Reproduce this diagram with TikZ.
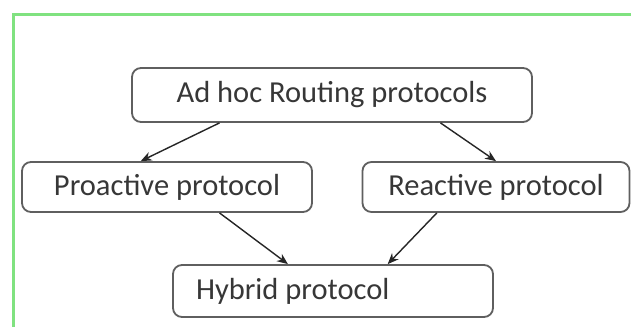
\documentclass[tikz,border=0pt]{standalone}
\usepackage{fontspec}
\setmainfont{Carlito}
\usetikzlibrary{arrows.meta, calc}
\usetikzlibrary{positioning}

\definecolor{framegreen}{RGB}{128,226,128}
\definecolor{boxgray}{RGB}{95,95,95}
\definecolor{textgray}{RGB}{55,55,55}

\begin{document}
\begin{tikzpicture}[x=1pt, y=-1pt,
    proto/.style={draw=boxgray, line width=1.8pt, rounded corners=9pt, fill=white,
        text=textgray, font=\fontsize{30.5}{34}\selectfont, inner sep=0pt},
    link/.style={line width=1.4pt, draw=black!85, -{Stealth[length=11pt,width=9pt]}}]
    \useasboundingbox (0,0) rectangle (631,327);
    \fill[white] (0,0) rectangle (631,327);
    % frame
    \draw[framegreen, line width=3pt] (13,327) -- (13,14) -- (631,14);
    % boxes
    \node[proto, minimum width=400pt, minimum height=54pt] at (332,95) (adhoc) {Ad hoc Routing protocols};
    \node[proto, minimum width=290pt, minimum height=50pt] at (167,187) (proactive) {Proactive protocol};
    \node[proto, minimum width=267pt, minimum height=50pt] at (496,187) (reactive) {Reactive protocol};
    \node[proto, minimum width=320pt, minimum height=52pt, text width=274pt, align=flush left,
        inner xsep=23pt] at (333,291) (hybrid) {Hybrid protocol};
    % arrows
    \draw[link] ($(adhoc.south west)!0.22!(adhoc.south east)$) -- ($(proactive.north west)!0.41!(proactive.north east)$);
    \draw[link] ($(adhoc.south west)!0.77!(adhoc.south east)$) -- ($(reactive.north west)!0.50!(reactive.north east)$);
    \draw[link] ($(proactive.south west)!0.68!(proactive.south east)$) -- ($(hybrid.north west)!0.36!(hybrid.north east)$);
    \draw[link] ($(reactive.south west)!0.28!(reactive.south east)$) -- ($(hybrid.north west)!0.67!(hybrid.north east)$);
\end{tikzpicture}
\end{document}
